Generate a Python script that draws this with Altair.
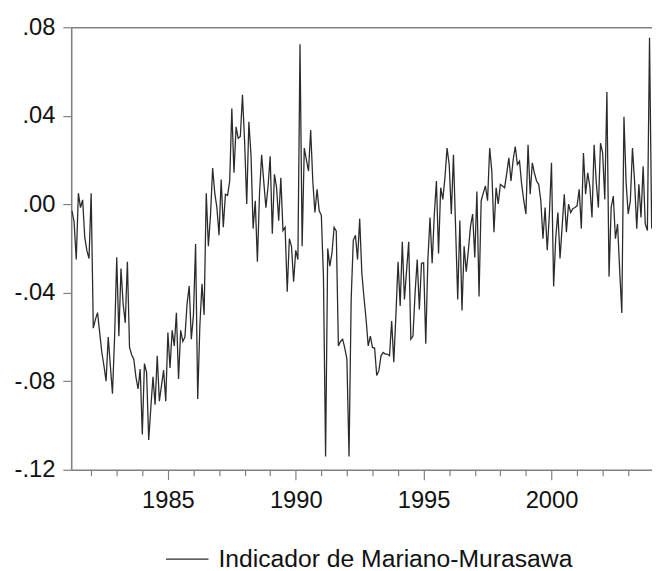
import altair as alt
import pandas as pd

series_name = "Indicador de Mariano-Murasawa"
first_year = 1981
first_month = 4  # first observation: April 1981 (monthly data)

v1981 = [-0.003, -0.008, -0.025, 0.005, -0.0015, 0.002, -0.015, -0.021, -0.0245]
v1982 = [0.005, -0.056, -0.052, -0.049, -0.058, -0.067, -0.073, -0.080, -0.060, -0.073, -0.0856, -0.060]
v1983 = [-0.024, -0.0596, -0.029, -0.045, -0.0536, -0.026, -0.0647, -0.068, -0.070, -0.078, -0.0835, -0.0745]
v1984 = [-0.104, -0.072, -0.076, -0.1065, -0.092, -0.078, -0.0906, -0.0685, -0.089, -0.082, -0.075, -0.089]
v1985 = [-0.058, -0.074, -0.057, -0.064, -0.049, -0.079, -0.057, -0.062, -0.060, -0.045, -0.037, -0.061]
v1986 = [-0.050, -0.018, -0.088, -0.055, -0.036, -0.050, 0.005, -0.019, -0.005, 0.0164, 0.005, -0.0015]
v1987 = [-0.014, 0.0112, -0.0104, 0.0045, 0.004, 0.0105, 0.0433, 0.0142, 0.035, 0.0298, 0.0306, 0.0495]
v1988 = [0.0284, 0.0001, 0.0373, 0.0224, -0.011, 0.0016, -0.026, 0.005, 0.0224, 0.010, -0.0015, 0.008]
v1989 = [0.0217, -0.0133, 0.0135, 0.0075, -0.0074, 0.012, -0.0119, -0.0104, -0.0395, -0.0156, -0.019, -0.035]
v1990 = [-0.0208, -0.025, 0.0723, -0.019, 0.0254, 0.020, 0.015, 0.0336, 0.0105, -0.0037, 0.0068, -0.003]
v1991 = [-0.005, -0.033, -0.114, -0.020, -0.028, -0.022, -0.0104, -0.012, -0.064, -0.062, -0.061, -0.065]
v1992 = [-0.070, -0.114, -0.043, -0.0163, -0.014, -0.025, -0.0066, -0.031, -0.042, -0.052, -0.064, -0.0596]
v1993 = [-0.0647, -0.065, -0.0774, -0.0752, -0.0685, -0.067, -0.0677, -0.0677, -0.0685, -0.0528, -0.0714, -0.050]
v1994 = [-0.026, -0.046, -0.017, -0.043, -0.030, -0.017, -0.061, -0.0596, -0.040, -0.025, -0.0476, -0.0267]
v1995 = [-0.0265, -0.063, -0.025, -0.006, -0.0267, -0.005, 0.0105, -0.0223, 0.0075, 0.0022, 0.012, 0.0254]
v1996 = [0.018, -0.0044, 0.0224, -0.0104, -0.043, -0.0074, -0.048, -0.019, -0.0305, -0.0208, -0.010, -0.0044]
v1997 = [-0.024, 0.0058, -0.0417, 0.0016, 0.005, 0.0083, 0.0016, 0.0254, 0.015, -0.0126, 0.0075, 0.0001]
v1998 = [0.009, 0.0083, 0.0075, 0.014, 0.021, 0.0105, 0.020, 0.0261, 0.018, 0.0195, 0.009, 0.0016]
v1999 = [-0.0044, 0.0269, 0.0045, 0.0187, 0.014, 0.0105, 0.009, 0.0016, -0.0156, -0.0015, -0.0208, -0.005]
v2000 = [0.0187, -0.0372, -0.015, -0.0037, -0.0245, -0.010, 0.0045, -0.0126, 0.0001, -0.0037, -0.002, -0.0015]
v2001 = [-0.0007, 0.0068, -0.011, 0.0232, 0.0045, 0.0142, 0.008, -0.006, 0.0269, 0.010, -0.0015, 0.0276]
v2002 = [0.0232, 0.0022, 0.0507, -0.0327, -0.0015, 0.0037, -0.0156, -0.0089, -0.030, -0.0491, 0.0395, 0.010]
v2003 = [-0.0044, 0.0016, 0.0254, 0.010, -0.011, 0.009, -0.006, 0.0172, -0.0089, -0.0119, 0.0753, -0.011]

yearly = [v1981, v1982, v1983, v1984, v1985, v1986, v1987, v1988, v1989, v1990,
          v1991, v1992, v1993, v1994, v1995, v1996, v1997, v1998, v1999, v2000,
          v2001, v2002, v2003]

x_tick_values = list(range(1982, 2004))
y_tick_values = [-0.12, -0.08, -0.04, 0.0, 0.04, 0.08]

rows = []
year, month = first_year, first_month
for vals in yearly:
    for v in vals:
        rows.append({"t": year + (month - 1) / 12.0, "v": v, "serie": series_name})
        month += 1
        if month > 12:
            month = 1
            year += 1
df = pd.DataFrame(rows)

FONT = "Liberation Sans, Arial, Helvetica, sans-serif"
AXIS_GREY = "#808080"
TEXT = "#111111"

x_scale = alt.Scale(domain=[1981.22, 2003.93], nice=False, zero=False)
y_scale = alt.Scale(domain=[-0.12, 0.08], nice=False, zero=False)

base = alt.Chart(df)

y_label_expr = "replace(replace(format(datum.value, '.2f'), '\u2212', '-'), '0.', '.')"

line = base.mark_line(strokeWidth=1.3, clip=True).encode(
    x=alt.X("t:Q", scale=x_scale, title=None,
            axis=alt.Axis(orient="bottom", values=x_tick_values, grid=False,
                          labelExpr="datum.value % 5 === 0 ? format(datum.value, 'd') : ''",
                          labelOverlap=False, labelFlush=False,
                          tickSize={"condition": {"test": "datum.value % 5 === 0", "value": 10}, "value": 6},
                          tickColor=AXIS_GREY, tickWidth=1.2,
                          domainColor=AXIS_GREY, domainWidth=1.6,
                          labelFont=FONT, labelFontSize=24, labelColor=TEXT,
                          labelPadding=9)),
    y=alt.Y("v:Q", scale=y_scale, title=None,
            axis=alt.Axis(orient="left", values=y_tick_values, grid=False,
                          labelExpr=y_label_expr,
                          tickSize=8.5, tickColor=AXIS_GREY, tickWidth=1.2,
                          domainColor=AXIS_GREY, domainWidth=1.6,
                          labelFont=FONT, labelFontSize=24, labelColor=TEXT,
                          labelPadding=8, labelOverlap=False)),
    color=alt.Color("serie:N", scale=alt.Scale(range=["#2b2b2b"]),
                    legend=alt.Legend(title=None, orient="none", legendX=95, legendY=516,
                                      symbolType="stroke", symbolSize=1849,
                                      symbolStrokeWidth=1.1, padding=0,
                                      labelFont=FONT, labelFontSize=25, labelColor=TEXT,
                                      labelOffset=9, labelLimit=1000)),
)

top_frame = base.mark_line(opacity=0).encode(
    x=alt.X("t:Q", scale=x_scale, title=None,
            axis=alt.Axis(orient="top", labels=False, ticks=False, grid=False,
                          domainColor=AXIS_GREY, domainWidth=1.6)),
    y=alt.Y("v:Q", scale=y_scale, axis=None),
)

chart = alt.layer(line, top_frame).resolve_axis(x="independent", y="independent").properties(
    width=588,
    height=448,
    autosize=alt.AutoSizeParams(type="none"),
    padding={"left": 64, "top": 16, "right": 0, "bottom": 99},
).configure_view(stroke=None)

chart.save("out.html", embed_options={"renderer": "svg", "actions": False})
